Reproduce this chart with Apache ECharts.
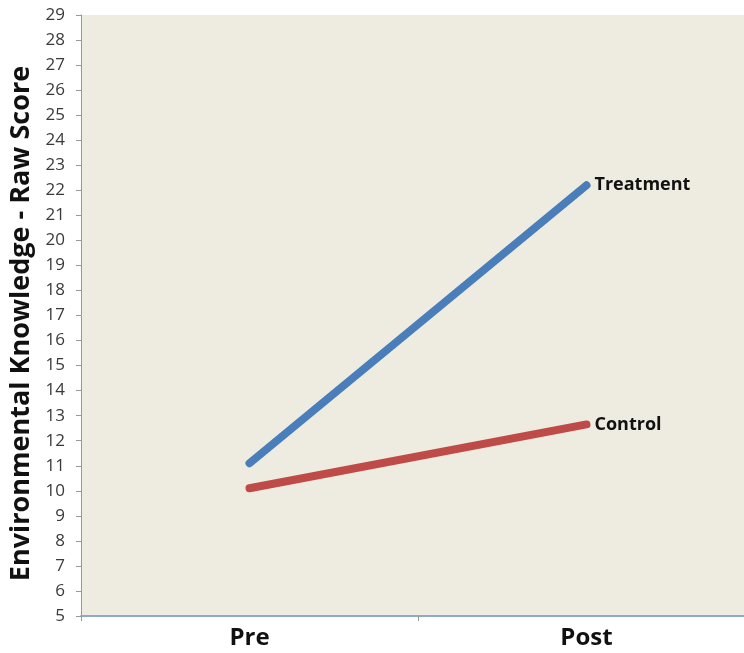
<!DOCTYPE html>
<html><head><meta charset="utf-8">
<script src="https://cdn.jsdelivr.net/npm/echarts@6/dist/echarts.min.js"></script>
<style>html,body{margin:0;padding:0;background:#fff}#c{width:744px;height:653px}</style>
</head><body><div id="c"></div>
<script>
var categories = ['Pre', 'Post'];
var treatment = [11.1, 22.2];
var control = [10.1, 12.65];
var seriesNames = ['Treatment', 'Control'];
var yMin = 5, yMax = 29, yInterval = 1;

var chart = echarts.init(document.getElementById('c'));
var font = '"Open Sans", sans-serif';
function mk(name, data, color) {
  return {
    name: name, type: 'line', data: data,
    symbol: 'none', lineStyle: {color: color, width: 8, cap: 'round'}, itemStyle: {color: color},
    endLabel: {show: true, formatter: name, distance: 8, color: '#111', fontWeight: 'bold', fontSize: 18, fontFamily: font},
    silent: true, z: 3
  };
}
chart.setOption({
  animation: false,
  grid: {left: 81, top: 15, bottom: 37, width: 674, containLabel: false, outerBoundsMode: 'none',
         show: true, backgroundColor: '#EEEBE1', borderWidth: 0},
  xAxis: {
    type: 'category', data: categories, boundaryGap: true,
    axisLine: {lineStyle: {color: '#8EA8D2', width: 2}},
    axisTick: {show: true, length: 5, lineStyle: {color: '#999'}},
    axisLabel: {color: '#111', fontWeight: 'bold', fontSize: 24, fontFamily: font, margin: 10},
    splitLine: {show: false}
  },
  yAxis: {
    type: 'value', min: yMin, max: yMax, interval: yInterval,
    name: 'Environmental Knowledge - Raw Score', nameLocation: 'middle', nameGap: 46,
    nameTextStyle: {color: '#111', fontWeight: 'bold', fontSize: 27, fontFamily: font, padding: [0, 16, 0, 0]},
    axisLine: {show: true, lineStyle: {color: '#999', width: 1}},
    axisTick: {show: true, length: 5, lineStyle: {color: '#999'}},
    axisLabel: {color: '#3a3a3a', fontSize: 17, fontFamily: font, margin: 16},
    splitLine: {show: false}
  },
  series: [mk(seriesNames[0], treatment, '#4A7EBB'), mk(seriesNames[1], control, '#BE4B48')]
});
</script></body></html>
